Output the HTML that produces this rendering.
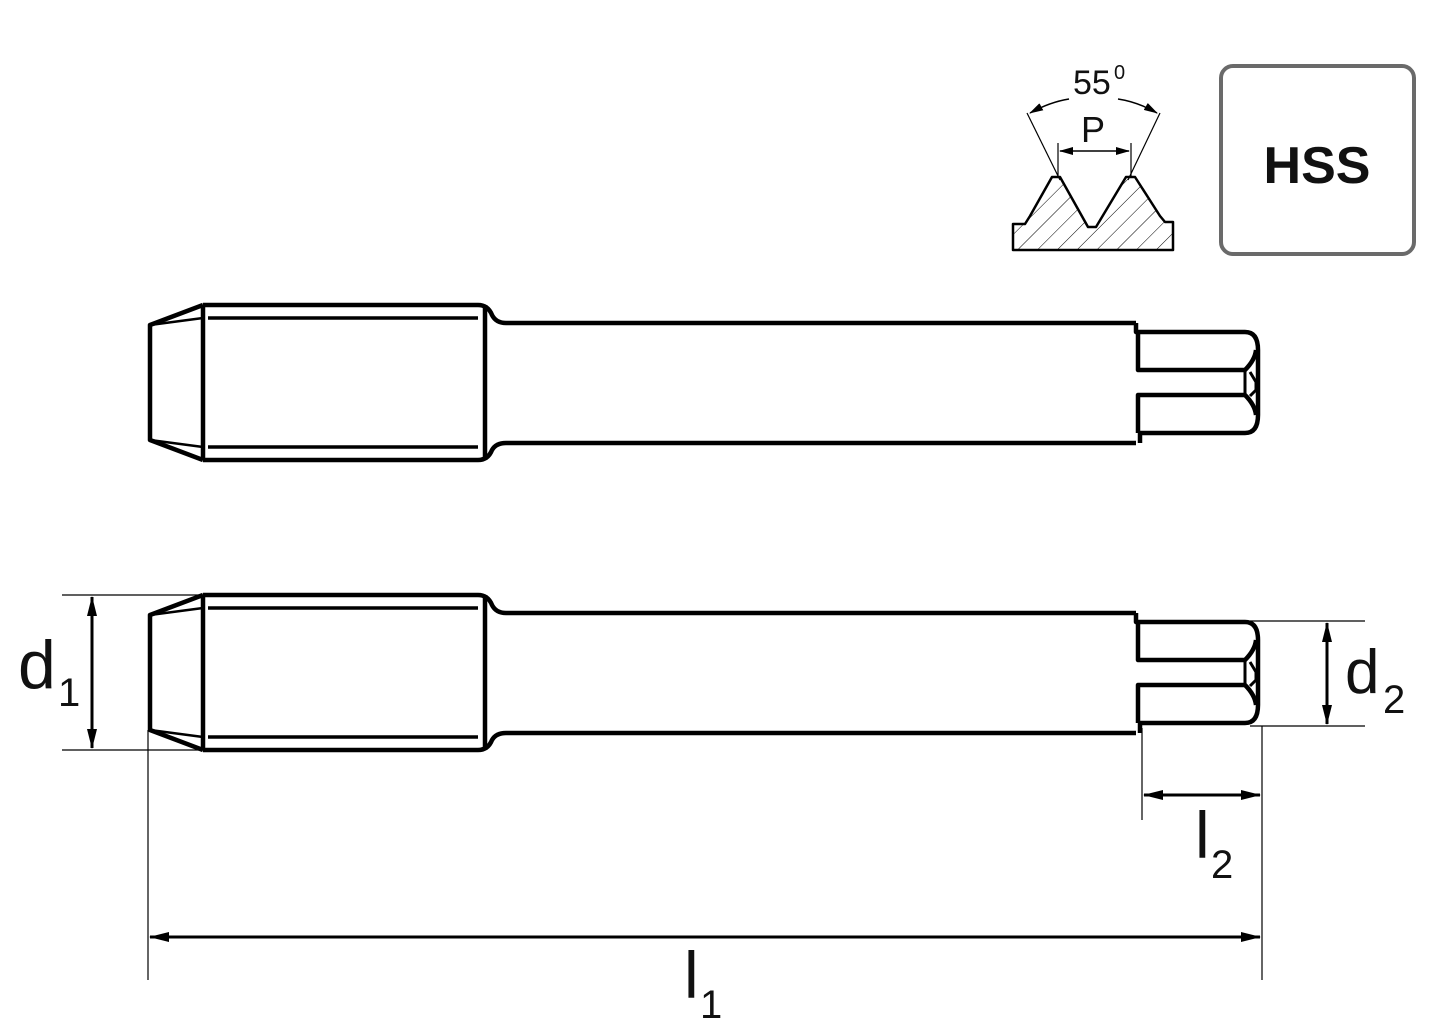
<!DOCTYPE html>
<html><head><meta charset="utf-8"><style>
html,body{margin:0;padding:0;background:#fff;}
svg{display:block;}
text{font-family:"Liberation Sans",sans-serif;fill:#111;}
</style></head><body>
<svg width="1440" height="1036" viewBox="0 0 1440 1036" xmlns="http://www.w3.org/2000/svg">
<defs>
<marker id="ar" viewBox="0 0 20 10" refX="19" refY="5" markerWidth="20" markerHeight="10" markerUnits="userSpaceOnUse" orient="auto-start-reverse"><path d="M0,0 L20,5 L0,10 z" fill="#000"/></marker>
<marker id="as" viewBox="0 0 14 8" refX="13" refY="4" markerWidth="14" markerHeight="8" markerUnits="userSpaceOnUse" orient="auto-start-reverse"><path d="M0,0 L14,4 L0,8 z" fill="#000"/></marker>
<pattern id="hatch" width="14" height="14" patternUnits="userSpaceOnUse" patternTransform="rotate(45)"><line x1="0" y1="0" x2="0" y2="14" stroke="#000" stroke-width="1"/></pattern>
<g id="tap" fill="none" stroke="#000" stroke-width="4.5" stroke-linejoin="round">
<path d="M203,305 L150,325 L150,440 L203,460"/>
<line x1="203" y1="305" x2="203" y2="460"/>
<line x1="203" y1="305" x2="478" y2="305"/>
<line x1="203" y1="460" x2="478" y2="460"/>
<line x1="208" y1="318" x2="478" y2="318" stroke-width="3.5"/>
<line x1="208" y1="447" x2="478" y2="447" stroke-width="3.5"/>
<path d="M150,325 L203,318 M150,440 L203,447" stroke-width="2.5"/>
<line x1="485" y1="305" x2="485" y2="460"/>
<path d="M478,305 Q488,305 492,315 Q496,323 506,323 L1136,323"/>
<path d="M478,460 Q488,460 492,450 Q496,443 506,443 L1136,443"/>
<path d="M1136,323 L1136,332 L1245,332 Q1258,332 1258,350 L1258,415 Q1258,433 1245,433 L1140,433 L1140,443"/>
<path d="M1138,332 L1138,370 L1245,370 Q1255,360 1256,350"/>
<path d="M1138,433 L1138,395 L1245,395 Q1255,405 1256,415"/>
<path d="M1245,370 L1245,395 M1250,372 L1256,382 L1256,390 L1250,396" stroke-width="3"/>
</g>
</defs>
<use href="#tap"/>
<use href="#tap" transform="translate(0,290)"/>

<!-- thread profile -->
<path d="M1013,250 L1013,224 L1025,224 L1030,216 L1052,177 L1060,177 L1088,227 L1096,227 L1126,177 L1135,177 L1160,216 L1165,222 L1173,222 L1173,250 Z" fill="url(#hatch)" stroke="#000" stroke-width="2.5" stroke-linejoin="round"/>
<line x1="1027" y1="113" x2="1060" y2="180" stroke="#000" stroke-width="1.2"/>
<line x1="1160" y1="113" x2="1128" y2="180" stroke="#000" stroke-width="1.2"/>
<line x1="1058" y1="143" x2="1058" y2="178" stroke="#000" stroke-width="1.2"/>
<line x1="1131" y1="143" x2="1131" y2="178" stroke="#000" stroke-width="1.2"/>
<line x1="1060" y1="151" x2="1129" y2="151" stroke="#000" stroke-width="1.5" marker-start="url(#as)" marker-end="url(#as)"/>
<path d="M1069,99 Q1050,102 1030,113" fill="none" stroke="#000" stroke-width="1.5" marker-end="url(#as)"/>
<path d="M1118,99 Q1138,102 1157,113" fill="none" stroke="#000" stroke-width="1.5" marker-end="url(#as)"/>
<text x="1073" y="94" font-size="34">55</text>
<text x="1114" y="79" font-size="20">0</text>
<text x="1081" y="142" font-size="36">P</text>

<!-- HSS box -->
<rect x="1221" y="66" width="193" height="188" rx="12" fill="#fff" stroke="#6a6a6a" stroke-width="4"/>
<text x="1317" y="183" font-size="52" font-weight="bold" text-anchor="middle" fill="#222">HSS</text>

<!-- dimensions -->
<g stroke="#000" stroke-width="1.2">
<line x1="62" y1="595" x2="205" y2="595"/>
<line x1="62" y1="750" x2="205" y2="750"/>
<line x1="148" y1="730" x2="148" y2="980"/>
<line x1="1250" y1="621" x2="1365" y2="621"/>
<line x1="1250" y1="726" x2="1365" y2="726"/>
<line x1="1142" y1="728" x2="1142" y2="820"/>
<line x1="1262" y1="726" x2="1262" y2="980"/>
</g>
<g stroke="#000" stroke-width="3">
<line x1="92" y1="597" x2="92" y2="748" marker-start="url(#ar)" marker-end="url(#ar)"/>
<line x1="1327" y1="623" x2="1327" y2="724" marker-start="url(#ar)" marker-end="url(#ar)"/>
<line x1="1144" y1="795" x2="1260" y2="795" marker-start="url(#ar)" marker-end="url(#ar)"/>
<line x1="150" y1="937" x2="1260" y2="937" marker-start="url(#ar)" marker-end="url(#ar)"/>
</g>
<text x="18" y="688" font-size="68">d</text>
<text x="58" y="706" font-size="40">1</text>
<text x="1345" y="693" font-size="62">d</text>
<text x="1383" y="713" font-size="40">2</text>
<text x="1195" y="858" font-size="66">l</text>
<text x="1211" y="878" font-size="40">2</text>
<text x="684" y="998" font-size="66">l</text>
<text x="700" y="1018" font-size="40">1</text>
</svg>
</body></html>
